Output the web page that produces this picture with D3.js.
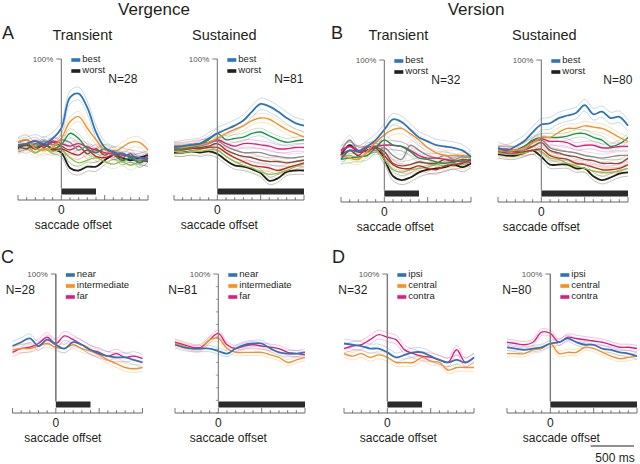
<!DOCTYPE html>
<html>
<head>
<meta charset="utf-8">
<script src="https://cdn.jsdelivr.net/npm/d3@7"></script>
<style>
body { margin: 0; background: #fff; }
svg { font-family: "Liberation Sans", Arial, sans-serif; }
</style>
</head>
<body>
<svg id="fig" width="640" height="464"></svg>
<script>
// time axis (ms from saccade offset), one sample every 100 ms
var times = [-500, -400, -300, -200, -100, 0, 100, 200, 300, 400, 500, 600, 700, 800, 900, 1000];
var majorTicks = [-500, 0, 500, 1000];
var yTicksC = [-10, 0, 10, 20, 30, 40, 50, 60, 70, 80, 90];

// ranked curves, best -> worst
var rankColors = ['#2c74bb', '#f7901e', '#17964a', '#e8197d', '#8c8c8c', '#8a4b3b', '#c8262c', '#8cc63e', '#231f20'];
var rankLegend = ['best', 'worst'];
var distLegendC = ['near', 'intermediate', 'far'];
var distLegendD = ['ipsi', 'central', 'contra'];
var distColors = ['#2c74bb', '#f7901e', '#e8197d'];

// normalized response (%) - Vergence transient, N=28
var vergTransient = [
	[33, 34, 36, 34, 38, 46, 70, 73, 62, 43, 31, 27, 26, 24, 23, 21],
	[35, 37, 30, 29, 31, 38, 51, 55, 46, 37, 29, 27, 31, 35, 35, 29],
	[32, 34, 31, 34, 30, 33, 42, 38, 30, 27, 30, 27, 21, 23, 19, 23],
	[33, 34, 36, 32, 36, 34, 32, 34, 31, 29, 27, 26, 25, 24, 23, 23],
	[35, 37, 32, 36, 33, 37, 35, 29, 32, 27, 30, 25, 27, 23, 21, 24],
	[32, 30, 34, 31, 35, 32, 29, 32, 26, 30, 25, 28, 23, 26, 19, 23],
	[30, 33, 30, 34, 29, 30, 27, 25, 29, 24, 23, 25, 21, 23, 21, 20],
	[29, 32, 27, 30, 28, 29, 23, 19, 21, 23, 20, 18, 20, 17, 20, 21],
	[31, 33, 30, 33, 30, 27, 15, 13, 16, 16, 21, 25, 23, 21, 23, 25]
];
var vergTransientSem = [5, 4, 3.5, 3, 3.5, 3.5, 3.5, 3.5, 3.5];

// Vergence sustained, N=81
var vergSustained = [
	[31, 32, 33, 34, 38, 42, 45, 48, 52, 59, 65, 63, 59, 54, 50, 48],
	[31, 31, 32, 33, 35, 38, 42, 45, 48, 52, 54, 53, 49, 45, 42, 39],
	[30, 30, 31, 33, 37, 42, 37, 38, 39, 42, 43, 40, 37, 35, 36, 37],
	[32, 32, 33, 34, 35, 37, 34, 32, 34, 34, 33, 32, 30, 30, 31, 31],
	[31, 31, 31, 32, 34, 36, 32, 29, 27, 27, 27, 25, 24, 23, 23, 24],
	[30, 30, 31, 31, 32, 34, 29, 26, 24, 23, 21, 20, 20, 19, 20, 21],
	[29, 29, 30, 30, 31, 31, 27, 23, 20, 17, 16, 15, 13, 15, 17, 19],
	[28, 27, 28, 28, 29, 29, 24, 20, 17, 15, 12, 10, 11, 13, 16, 18],
	[27, 27, 28, 27, 28, 26, 21, 17, 16, 14, 11, 5, 7, 12, 13, 13]
];
var vergSustainedSem = [4.5, 3.5, 3, 3, 3, 3, 3, 3, 3];

// Version transient, N=32
var versTransient = [
	[23, 30, 29, 33, 38, 46, 54, 52, 46, 40, 37, 34, 33, 32, 30, 25],
	[26, 24, 23, 29, 36, 42, 46, 47, 43, 38, 32, 28, 26, 26, 26, 25],
	[23, 24, 25, 26, 32, 38, 34, 33, 29, 24, 23, 21, 20, 21, 22, 23],
	[30, 33, 30, 29, 33, 34, 34, 33, 30, 26, 24, 24, 23, 22, 21, 21],
	[29, 38, 30, 33, 30, 32, 26, 23, 34, 30, 26, 24, 26, 23, 25, 24],
	[28, 33, 29, 30, 32, 29, 20, 18, 19, 21, 20, 20, 23, 21, 23, 22],
	[26, 30, 26, 32, 33, 26, 19, 16, 16, 18, 16, 15, 18, 19, 20, 23],
	[25, 26, 24, 28, 30, 23, 15, 13, 15, 16, 17, 19, 18, 20, 19, 21],
	[26, 34, 29, 30, 32, 23, 10, 7, 9, 13, 15, 16, 17, 19, 17, 20]
];
var versTransientSem = [4.5, 4, 3.5, 3.5, 3.5, 3.5, 3.5, 3.5, 3.5];

// Version sustained, N=80
var versSustained = [
	[32, 30, 33, 37, 44, 50, 51, 55, 57, 59, 65, 58, 60, 55, 56, 49],
	[30, 30, 30, 32, 36, 40, 40, 44, 47, 47, 49, 48, 47, 44, 40, 37],
	[30, 30, 30, 33, 38, 40, 40, 40, 41, 43, 43, 40, 38, 33, 35, 40],
	[31, 31, 30, 33, 37, 39, 37, 37, 36, 33, 34, 34, 32, 32, 33, 33],
	[30, 29, 30, 30, 36, 38, 32, 30, 29, 28, 26, 25, 24, 25, 26, 26],
	[30, 30, 29, 30, 33, 36, 30, 28, 26, 25, 23, 22, 20, 20, 20, 24],
	[29, 28, 28, 29, 30, 31, 26, 24, 23, 20, 19, 17, 15, 15, 16, 19],
	[28, 27, 27, 28, 30, 29, 24, 23, 20, 18, 16, 14, 13, 13, 14, 16],
	[27, 26, 26, 28, 30, 25, 19, 19, 19, 16, 16, 10, 7, 9, 12, 13]
];
var versSustainedSem = [4.5, 3.5, 3, 3, 3, 3, 3, 3, 3];

// by target distance (vergence) / direction (version)
var vergDistTransient = [
	[43, 46, 49, 43, 48, 44, 41, 46, 44, 40, 37, 35, 34, 34, 32, 30],
	[40, 41, 41, 43, 45, 42, 41, 44, 41, 39, 36, 32, 29, 26, 25, 26],
	[38, 41, 42, 45, 50, 45, 51, 48, 44, 40, 38, 35, 37, 34, 35, 33]
];
var vergDistSustained = [
	[44, 42, 41, 41, 41, 39, 37, 41, 44, 45, 45, 41, 38, 37, 37, 38],
	[45, 43, 41, 41, 48, 49, 41, 38, 38, 38, 38, 36, 34, 30, 32, 34],
	[46, 44, 42, 42, 48, 53, 44, 41, 43, 44, 43, 42, 41, 38, 37, 36]
];
var versDirTransient = [
	[45, 44, 43, 41, 41, 38, 34, 36, 38, 38, 35, 32, 30, 32, 30, 34],
	[37, 35, 37, 34, 36, 34, 30, 30, 30, 34, 31, 30, 24, 26, 26, 26],
	[41, 43, 44, 48, 52, 50, 48, 40, 37, 35, 34, 32, 30, 40, 30, 34]
];
var versDirSustained = [
	[42, 41, 40, 41, 42, 45, 46, 49, 46, 44, 44, 41, 40, 38, 37, 35],
	[37, 37, 37, 40, 41, 45, 37, 38, 38, 42, 41, 38, 35, 33, 34, 35],
	[46, 45, 44, 46, 54, 53, 46, 50, 49, 48, 47, 46, 44, 42, 42, 41]
];
var distSemTransient = [3.5, 3, 3.5];
var distSemSustained = [2.5, 2.5, 2.5];

var svg = d3.select('#fig');
var ink = '#231f20';

var panels = [
	{ data: vergTransient, sem: vergTransientSem, colors: rankColors, legend: rankLegend, legendColors: [rankColors[0], rankColors[8]],
	  left: 18, top: 59, bottom: 200, barEnd: 400, n: 'N=28', nx: 76, nRight: true, labelDx: 12, sub: 'Transient', subDx: 21 },
	{ data: vergSustained, sem: vergSustainedSem, colors: rankColors, legend: rankLegend, legendColors: [rankColors[0], rankColors[8]],
	  left: 174, top: 59, bottom: 200, barEnd: 1000, n: 'N=81', nx: 86, nRight: true, labelDx: 2, sub: 'Sustained', subDx: 7 },
	{ data: versTransient, sem: versTransientSem, colors: rankColors, legend: rankLegend, legendColors: [rankColors[0], rankColors[8]],
	  left: 341, top: 60, bottom: 202, barEnd: 400, n: 'N=32', nx: 76, nRight: true, labelDx: 11, sub: 'Transient', subDx: 14 },
	{ data: versSustained, sem: versSustainedSem, colors: rankColors, legend: rankLegend, legendColors: [rankColors[0], rankColors[8]],
	  left: 498, top: 60, bottom: 202, barEnd: 1000, n: 'N=80', nx: 91, nRight: true, labelDx: 0, sub: 'Sustained', subDx: 3 },
	{ data: vergDistTransient, sem: distSemTransient, colors: distColors, legend: distLegendC, legendColors: distColors,
	  left: 12.5, top: 274, bottom: 413, barEnd: 400, n: 'N=28', nx: -50, nRight: false, labelDx: 7, axisW: 1.6 },
	{ data: vergDistSustained, sem: distSemSustained, colors: distColors, legend: distLegendC, legendColors: distColors,
	  left: 175, top: 274, bottom: 413, barEnd: 1000, n: 'N=81', nx: -50, nRight: false, labelDx: 10, yTicks: true },
	{ data: versDirTransient, sem: distSemTransient, colors: distColors, legend: distLegendD, legendColors: distColors,
	  left: 344, top: 274, bottom: 413, barEnd: 400, n: 'N=32', nx: -49, nRight: false, labelDx: 11, axisW: 1.4 },
	{ data: versDirSustained, sem: distSemSustained, colors: distColors, legend: distLegendD, legendColors: distColors,
	  left: 507, top: 274, bottom: 413, barEnd: 1000, n: 'N=80', nx: -48, nRight: false, labelDx: 11, axisW: 1.4 }
];

function drawPanel(p) {
	var x = d3.scaleLinear().domain([-500, 1000]).range([p.left, p.left + 130]);
	var y = d3.scaleLinear().domain([-10, 100]).range([p.bottom, p.top]);
	var g = svg.append('g');
	var x0 = x(0);

	// response curves: SEM lines first, then means (best on top)
	var line = d3.line()
		.x(function(d, i) { return x(times[i]); })
		.y(function(d) { return y(d); })
		.curve(d3.curveCatmullRom.alpha(0.5));

	p.data.forEach(function(row, k) {
		[-1, 1].forEach(function(s) {
			g.append('path')
				.attr('d', line(row.map(function(v) { return v + s*p.sem[k]; })))
				.attr('fill', 'none')
				.attr('stroke', p.colors[k])
				.attr('stroke-opacity', 0.45)
				.attr('stroke-width', 0.6);
		});
	});
	for(var k = p.data.length - 1; k >= 0; k--) {
		g.append('path')
			.attr('d', line(p.data[k]))
			.attr('fill', 'none')
			.attr('stroke', p.colors[k])
			.attr('stroke-width', (k == 0 || k == 8) ? 1.8 : 1.4);
	}

	// epoch bar
	g.append('rect')
		.attr('x', x0).attr('y', p.bottom - 11.5)
		.attr('width', x(p.barEnd) - x0).attr('height', 6)
		.attr('fill', '#2b2b2b');

	// vertical axis at saccade offset
	g.append('line')
		.attr('x1', x0).attr('x2', x0)
		.attr('y1', y(100)).attr('y2', p.bottom - 11.5)
		.attr('stroke', '#7a7a7a').attr('stroke-width', p.axisW || 1.1);
	g.append('line')
		.attr('x1', x0 - 5).attr('x2', x0)
		.attr('y1', y(100)).attr('y2', y(100))
		.attr('stroke', '#555').attr('stroke-width', 0.8);
	g.append('text')
		.attr('x', x0 - 8).attr('y', y(100) + 3)
		.attr('text-anchor', 'end')
		.attr('font-size', 8).attr('fill', '#555')
		.text('100%');
	if(p.yTicks) {
		g.selectAll('.ytick').data(yTicksC).enter().append('line')
			.attr('x1', x0 - 2.5).attr('x2', x0)
			.attr('y1', function(d) { return y(d); })
			.attr('y2', function(d) { return y(d); })
			.attr('stroke', '#777').attr('stroke-width', 0.7);
	}

	// time axis
	g.append('line')
		.attr('x1', x(-500)).attr('x2', x(1000))
		.attr('y1', p.bottom).attr('y2', p.bottom)
		.attr('stroke', '#555').attr('stroke-width', 0.9);
	g.selectAll('.xtick').data(times).enter().append('line')
		.attr('x1', function(d) { return x(d); })
		.attr('x2', function(d) { return x(d); })
		.attr('y1', p.bottom)
		.attr('y2', function(d) { return p.bottom - (majorTicks.indexOf(d) >= 0 ? 5 : 2.8); })
		.attr('stroke', '#555').attr('stroke-width', 0.8);
	g.append('text')
		.attr('x', x0).attr('y', p.bottom + 14)
		.attr('text-anchor', 'middle')
		.attr('font-size', 12).attr('fill', ink)
		.text('0');
	g.append('text')
		.attr('x', x0 + p.labelDx).attr('y', p.bottom + 29)
		.attr('text-anchor', 'middle')
		.attr('font-size', 12).attr('fill', ink)
		.text('saccade offset');

	// legend (tightly stacked, as in the original)
	p.legend.forEach(function(name, i) {
		g.append('rect')
			.attr('x', x0 + 10).attr('y', y(100) - 0.8 + i*11)
			.attr('width', 9).attr('height', 3.6)
			.attr('fill', p.legendColors[i]);
		g.append('text')
			.attr('x', x0 + 21).attr('y', y(100) + 3 + i*11)
			.attr('font-size', 9.5).attr('fill', ink)
			.text(name);
	});

	// N label
	g.append('text')
		.attr('x', x0 + p.nx)
		.attr('y', p.nRight ? y(100) + 24 : y(100) + 20)
		.attr('text-anchor', p.nRight ? 'end' : 'start')
		.attr('font-size', 12).attr('fill', ink)
		.text(p.n);

	if(p.sub) {
		g.append('text')
			.attr('x', x0 + p.subDx).attr('y', 40)
			.attr('text-anchor', 'middle')
			.attr('font-size', 14.5).attr('fill', ink)
			.text(p.sub);
	}
	return x;
}

var xs = panels.map(drawPanel);

// titles and panel letters
svg.append('text').attr('x', 154).attr('y', 15).attr('text-anchor', 'middle')
	.attr('font-size', 17).attr('fill', ink).text('Vergence');
svg.append('text').attr('x', 476).attr('y', 15).attr('text-anchor', 'middle')
	.attr('font-size', 17).attr('fill', ink).text('Version');
[['A', 2, 39], ['B', 331, 39], ['C', 1, 263], ['D', 332, 263]].forEach(function(l) {
	svg.append('text').attr('x', l[1]).attr('y', l[2])
		.attr('font-size', 18).attr('fill', ink).text(l[0]);
});

// 500 ms scale bar, using the last panel's time scale
var xs8 = xs[7];
var barLen = xs8(500) - xs8(0);
svg.append('line')
	.attr('x1', 634 - barLen).attr('x2', 634)
	.attr('y1', 446).attr('y2', 446)
	.attr('stroke', ink).attr('stroke-width', 1);
svg.append('text').attr('x', 615).attr('y', 462).attr('text-anchor', 'middle')
	.attr('font-size', 12).attr('fill', ink).text('500 ms');
</script>
</body>
</html>
